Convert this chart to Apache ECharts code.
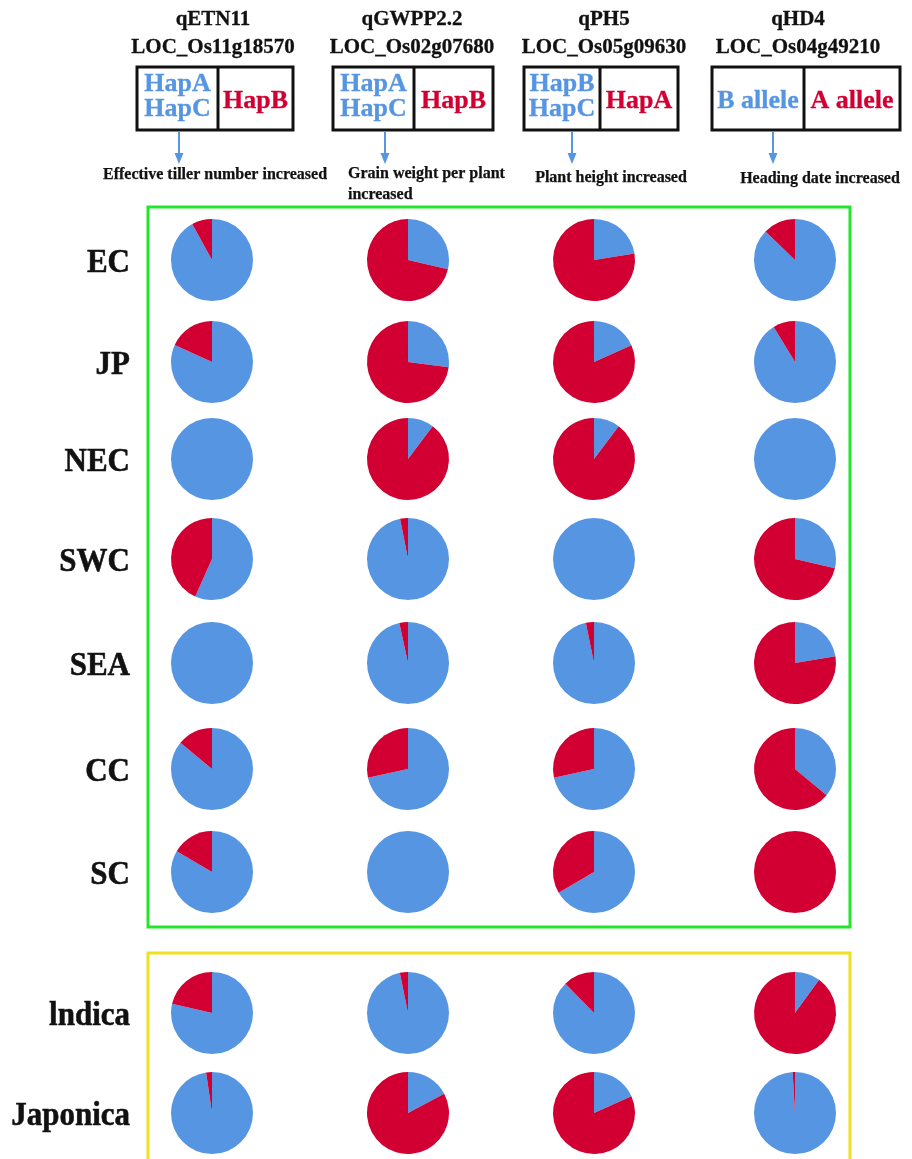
<!DOCTYPE html>
<html>
<head>
<meta charset="utf-8">
<title>Haplotype frequencies of four QTL genes across rice populations</title>
<script src="https://cdn.jsdelivr.net/npm/echarts@6/dist/echarts.min.js"></script>
<style>
  html, body { margin: 0; padding: 0; background: #ffffff; }
  #chart { width: 912px; height: 1159px; }
</style>
</head>
<body>
<div id="chart"></div>
<script>
// ---- data ----
const populations = ['EC', 'JP', 'NEC', 'SWC', 'SEA', 'CC', 'SC', 'lndica', 'Japonica'];
const genes = ['qETN11', 'qGWPP2.2', 'qPH5', 'qHD4'];
const loci = ['LOC_Os11g18570', 'LOC_Os02g07680', 'LOC_Os05g09630', 'LOC_Os04g49210'];
const increasingAlleles = [['HapA', 'HapC'], ['HapA', 'HapC'], ['HapB', 'HapC'], ['B allele']];
const otherAlleles = ['HapB', 'HapB', 'HapA', 'A allele'];
const traits = [
  ['Effective tiller number increased'],
  ['Grain weight per plant', 'increased'],
  ['Plant height increased'],
  ['Heading date increased']
];
// share (%) of the trait-increasing allele per population, in the order of `populations`
const qETN11Share  = [92.0, 81.8, 100, 56.7, 100, 86.0, 83.5, 78.6, 97.7];
const qGWPP22Share = [28.6, 27.0, 10.3, 96.9, 96.6, 71.6, 100, 96.8, 17.2];
const qPH5Share    = [22.5, 18.3, 10.3, 100, 96.8, 71.6, 66.5, 87.7, 18.3];
const qHD4Share    = [87.2, 91.3, 100, 28.6, 22.4, 36.0, 0, 10.0, 99.1];
const sharesByGene = [qETN11Share, qGWPP22Share, qPH5Share, qHD4Share];

// ---- layout & style ----
const BLUE = '#5595E2';
const RED = '#D20032';
const INK = '#111111';
const SERIF = 'Liberation Serif';
const colX = [212, 408, 594, 795];
const rowY = [260, 362, 459, 559, 663, 769, 872, 1013, 1113];
const PIE_R = 41;
const boxes = [ // left, divider, right
  [137, 218, 293],
  [333, 414, 493],
  [524, 600, 678],
  [712, 804, 900]
];
const BOX_TOP = 67, BOX_BOTTOM = 130;
const arrowX = [179, 385, 572, 773];
const titleX = [213, 412, 604, 798];
const traitPos = [
  { x: 215, y: 175, align: 'center' },
  { x: 348, y: 174, align: 'left' },
  { x: 611, y: 178, align: 'center' },
  { x: 820, y: 179, align: 'center' }
];

const chart = echarts.init(document.getElementById('chart'), null, { renderer: 'canvas' });

// pies
const series = [];
genes.forEach((gene, g) => {
  populations.forEach((pop, p) => {
    const share = sharesByGene[g][p];
    series.push({
      type: 'pie',
      name: gene + ' ' + pop,
      center: [colX[g], rowY[p]],
      radius: PIE_R,
      startAngle: 90,
      clockwise: true,
      silent: true,
      animation: false,
      avoidLabelOverlap: false,
      label: { show: false },
      labelLine: { show: false },
      emphasis: { disabled: true },
      itemStyle: { borderWidth: 0 },
      data: [
        { name: increasingAlleles[g].join('/'), value: share, itemStyle: { color: BLUE } },
        { name: otherAlleles[g], value: +(100 - share).toFixed(1), itemStyle: { color: RED } }
      ]
    });
  });
});

// annotations
const graphics = [];
const txt = (x, y, text, size, color, align, extra, weightStroke) => Object.assign({
  type: 'text', x: x, y: y, silent: true,
  style: {
    text: text, fill: color,
    fontFamily: SERIF, fontWeight: 'bold', fontSize: size,
    textAlign: align || 'center', textVerticalAlign: 'middle',
    stroke: color, lineWidth: weightStroke == null ? 0.3 : weightStroke
  }
}, extra || {});

genes.forEach((gene, g) => {
  const [l, d, r] = boxes[g];
  graphics.push(txt(titleX[g], 20, gene, 21, INK, 'center', null, 0.3));
  graphics.push(txt(titleX[g], 48, loci[g], 21, INK, 'center', null, 0.3));
  graphics.push({
    type: 'rect', silent: true,
    shape: { x: l, y: BOX_TOP, width: r - l, height: BOX_BOTTOM - BOX_TOP },
    style: { fill: null, stroke: INK, lineWidth: 3 }
  });
  graphics.push({
    type: 'line', silent: true,
    shape: { x1: d, y1: BOX_TOP, x2: d, y2: BOX_BOTTOM },
    style: { stroke: INK, lineWidth: 3 }
  });
  const leftC = (l + d) / 2, rightC = (d + r) / 2;
  const inc = increasingAlleles[g];
  if (inc.length === 2) {
    graphics.push(txt(leftC, 84, inc[0], 26, BLUE));
    graphics.push(txt(leftC, 109, inc[1], 26, BLUE));
  } else {
    graphics.push(txt(leftC, 101, inc[0], 26, BLUE));
  }
  graphics.push(txt(rightC, 101, otherAlleles[g], 26, RED));
  // arrow to the trait
  graphics.push({
    type: 'line', silent: true,
    shape: { x1: arrowX[g], y1: BOX_BOTTOM + 1, x2: arrowX[g], y2: 156 },
    style: { stroke: BLUE, lineWidth: 2 }
  });
  graphics.push({
    type: 'polygon', silent: true,
    shape: { points: [[arrowX[g] - 4.5, 153], [arrowX[g] + 4.5, 153], [arrowX[g], 164]] },
    style: { fill: BLUE }
  });
  const tp = traitPos[g];
  traits[g].forEach((line, i) => {
    graphics.push(txt(tp.x, tp.y + i * 21, line, 16, INK, tp.align, null, 0.25));
  });
});

// population labels
populations.forEach((pop, p) => {
  graphics.push(txt(130, rowY[p] + 3, pop, 31, INK, 'right', { scaleY: 1.12 }, 0.5));
});

// group frames
graphics.push({
  type: 'rect', silent: true,
  shape: { x: 148, y: 207, width: 702, height: 720 },
  style: { fill: null, stroke: '#22E62A', lineWidth: 3 }
});
graphics.push({
  type: 'rect', silent: true,
  shape: { x: 148, y: 953, width: 702, height: 260 },
  style: { fill: null, stroke: '#F0E11E', lineWidth: 3 }
});

chart.setOption({
  backgroundColor: '#ffffff',
  animation: false,
  series: series,
  graphic: { elements: graphics }
});
</script>
</body>
</html>
